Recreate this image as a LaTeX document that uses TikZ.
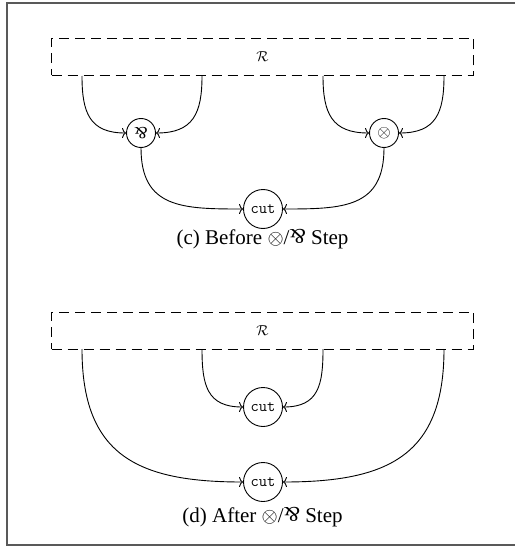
\documentclass[tikz,border=0pt]{standalone}
\usepackage{fontspec}
\setmainfont{Liberation Serif}
\usetikzlibrary{arrows.meta}
\newcommand{\parrsym}{\raisebox{0.03em}{\rotatebox[origin=c]{180}{\&}}}

\begin{document}
\begin{tikzpicture}
        [x=1pt, y=1pt, line width=0.9pt, looseness=1.3,
        gate/.style={circle, draw, minimum size=29pt, inner sep=0pt, font=\fontsize{17}{20}\selectfont},
        cutnode/.style={circle, draw, minimum size=39pt, inner sep=0pt, font=\fontsize{16}{18}\selectfont\ttfamily},
        region/.style={draw, dash pattern=on 10pt off 6pt, minimum width=422pt, minimum height=37pt, inner sep=0pt, font=\fontsize{15}{18}\selectfont},
        wire/.style={-{To[length=4pt, width=10pt]}},
        caption/.style={font=\fontsize{21}{25}\selectfont}]

        \useasboundingbox (0,0) rectangle (514,-548);
        \draw[black!65, line width=1.2pt] (7,-3) rectangle (520,-545);

        % (c) before the step
        \node[region] (R1) at (262.5,-57) {$\mathcal{R}$};
        \node[gate] (par) at (141,-133) {\parrsym};
        \node[gate] (tens) at (384,-133) {$\otimes$};
        \node[cutnode] (cutc) at (263,-209) {cut};

        \coordinate (a1) at (82,-76);
        \coordinate (b1) at (202,-76);
        \coordinate (c1) at (323,-76);
        \coordinate (d1) at (444,-76);

        \draw[wire] (a1) to[out=-90, in=180] (par);
        \draw[wire] (b1) to[out=-90, in=0] (par);
        \draw[wire] (c1) to[out=-90, in=180] (tens);
        \draw[wire] (d1) to[out=-90, in=0] (tens);
        \draw[wire] (par) to[out=-90, in=180] (cutc);
        \draw[wire] (tens) to[out=-90, in=0] (cutc);

        \node[caption] (capc) at (262.5,-239) {(c) Before $\otimes$/\parrsym{} Step};

        % (d) after the step
        \node[region] (R2) at (262.5,-330.5) {$\mathcal{R}$};
        \node[cutnode] (cutd) at (263,-407) {cut};
        \node[cutnode] (cute) at (263,-482) {cut};

        \coordinate (a2) at (82,-349);
        \coordinate (b2) at (202,-349);
        \coordinate (c2) at (323,-349);
        \coordinate (d2) at (444,-349);

        \draw[wire] (b2) to[out=-90, in=180] (cutd);
        \draw[wire] (c2) to[out=-90, in=0] (cutd);
        \draw[wire] (a2) to[out=-90, in=180] (cute);
        \draw[wire] (d2) to[out=-90, in=0] (cute);

        \node[caption] (capd) at (262.5,-517) {(d) After $\otimes$/\parrsym{} Step};
    \end{tikzpicture}
\end{document}
